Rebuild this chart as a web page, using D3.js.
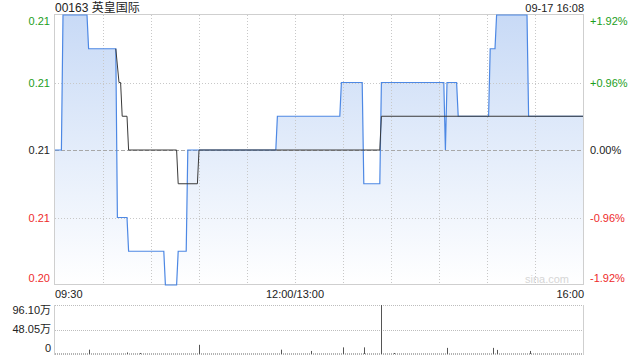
<!DOCTYPE html>
<html><head><meta charset="utf-8">
<script src="https://cdn.jsdelivr.net/npm/d3@7"></script>
<style>
html,body{margin:0;padding:0;background:#fff;}
svg{display:block;font-family:Arial,"Liberation Sans","Noto Sans CJK SC",sans-serif;}
</style></head>
<body><svg id="c" width="640" height="360"></svg>
<script>
const titleText = "00163 英皇国际";
const dateText = "09-17 16:08";
const prevClose = 0.208;
const priceTicks = [0.212, 0.210, 0.208, 0.206, 0.204];
const timeTickLabels = ["09:30", "12:00/13:00", "16:00"];
const gridTimes = ["10:00","10:30","11:00","11:30","12:00","13:30","14:00","14:30","15:00","15:30"];

const priceTimes = ["09:30","09:34","09:35","09:50","09:51","10:08","10:09","10:15","10:16","10:38","10:39","10:46","10:47","10:52","10:53","11:48","11:49","13:28","13:29","13:42","13:43","13:53","13:54","14:33","14:34","14:35","14:41","14:42","15:01","15:02","15:05","15:06","15:25","15:26","16:00"];
const priceValues = [0.208,0.208,0.212,0.212,0.211,0.211,0.206,0.206,0.205,0.205,0.204,0.204,0.205,0.205,0.208,0.208,0.209,0.209,0.210,0.210,0.207,0.207,0.210,0.210,0.208,0.210,0.210,0.209,0.209,0.211,0.211,0.212,0.212,0.209,0.209];

const avgTimes = ["10:08","10:10","10:11","10:12","10:15","10:16","10:46","10:47","10:59","11:00","13:53","13:54","16:00"];
const avgValues = [0.211,0.210,0.210,0.209,0.209,0.208,0.208,0.207,0.207,0.208,0.208,0.209,0.209];

const volTimes = ["09:51","10:15","10:23","11:00","11:51","13:10","13:30","13:43","13:54","14:02","14:35","15:04","15:06","15:27"];
const volValues = [85000,30000,20000,180000,85000,60000,130000,130000,961000,20000,120000,120000,80000,60000];
const volMax = 961000;
const volTickLabels = ["96.10万","48.05万","0"];

function idx(t){
  const [h,m] = t.split(":").map(Number);
  const mins = h*60+m;
  if (mins <= 12*60) return mins - (9*60+30);
  return 150 + mins - 13*60;
}

const svg = d3.select("#c");
const L = 55, R = 583, T = 15, B = 285;
const VT = 305, VB = 354;
const x = d3.scaleLinear().domain([0,330]).range([L,R]);
const y = d3.scaleLinear().domain([0.204,0.212]).range([B,T]);
const yv = d3.scaleLinear().domain([0,volMax]).range([VB,VT]);

const green = "#1c9e1c", red = "#ee2b2b", dark = "#222";
const colorFor = p => Math.abs(p-prevClose)<1e-9 ? dark : (p>prevClose ? green : red);

const defs = svg.append("defs");
const g = defs.append("linearGradient").attr("id","fillg").attr("gradientUnits","userSpaceOnUse")
  .attr("x1",0).attr("x2",0).attr("y1",T).attr("y2",B);
g.append("stop").attr("offset",0).attr("stop-color","#c8daf6");
g.append("stop").attr("offset",1).attr("stop-color","#ffffff");

const pData = priceTimes.map((t,i)=>({i:idx(t), v:priceValues[i]}));
const aData = avgTimes.map((t,i)=>({i:idx(t), v:avgValues[i]}));

svg.append("path").datum(pData)
  .attr("d", d3.area().x(d=>x(d.i)).y0(B).y1(d=>y(d.v)))
  .attr("fill","url(#fillg)");

svg.append("g").selectAll("line").data(gridTimes).join("line")
  .attr("x1",d=>x(idx(d))+0.5).attr("x2",d=>x(idx(d))+0.5).attr("y1",T).attr("y2",B)
  .attr("stroke","#c8c8c8").attr("stroke-dasharray","1,2");
svg.append("g").selectAll("line").data(priceTicks.filter(p=>p!==0.212 && p!==0.204)).join("line")
  .attr("x1",L).attr("x2",R).attr("y1",d=>Math.round(y(d))+0.5).attr("y2",d=>Math.round(y(d))+0.5)
  .attr("stroke",d=>d===prevClose?"#a8a8a8":"#c8c8c8")
  .attr("stroke-dasharray",d=>d===prevClose?"4,2":"1,2");

svg.append("rect").attr("x",L-0.5).attr("y",T-0.5).attr("width",R-L+1).attr("height",B-T)
  .attr("fill","none").attr("stroke","#cfcfcf");

svg.append("text").attr("x",569).attr("y",283).attr("text-anchor","end")
  .attr("font-size",11).attr("fill","#d6d6d6").text("sina.com");

svg.append("path").datum(pData)
  .attr("d", d3.line().x(d=>x(d.i)).y(d=>y(d.v)))
  .attr("fill","none").attr("stroke","#4d88e4").attr("stroke-width",1.2);
svg.append("path").datum(aData)
  .attr("d", d3.line().x(d=>x(d.i)).y(d=>y(d.v)))
  .attr("fill","none").attr("stroke","#3a3a3a").attr("stroke-width",1);

const pct = p => { const v=(p-prevClose)/prevClose*100; return Math.abs(v)<1e-9 ? "0.00%" : (v>0?"+":"")+v.toFixed(2)+"%"; };
const labelY = p => { const yy=y(p); if (p===0.212) return yy+9.5; if (p===0.204) return yy-3.5; return yy+4; };
svg.append("g").selectAll("text").data(priceTicks).join("text")
  .attr("x",50).attr("y",labelY).attr("text-anchor","end").attr("font-size",11)
  .attr("fill",colorFor).text(d=>d3.format(".2f")(d));
svg.append("g").selectAll("text").data(priceTicks).join("text")
  .attr("x",590).attr("y",labelY).attr("text-anchor","start").attr("font-size",11)
  .attr("fill",colorFor).text(pct);

svg.append("text").attr("x",55).attr("y",12).attr("font-size",12).attr("fill",dark).text(titleText);
svg.append("text").attr("x",584).attr("y",12).attr("text-anchor","end").attr("font-size",11).attr("fill",dark).text(dateText);

const tpos = [x(0), x(150), x(330)];
const tanchor = ["start","middle","end"];
svg.append("g").selectAll("text").data(timeTickLabels).join("text")
  .attr("x",(d,i)=>tpos[i]+(i===2?1:0)).attr("y",298).attr("text-anchor",(d,i)=>tanchor[i])
  .attr("font-size",11).attr("fill",dark).text(d=>d);

svg.append("line").attr("x1",L).attr("x2",R).attr("y1",VT+0.5).attr("y2",VT+0.5)
  .attr("stroke","#bdbdbd").attr("stroke-dasharray","1,1");
svg.append("line").attr("x1",L).attr("x2",R).attr("y1",Math.round(yv(volMax/2))+0.5).attr("y2",Math.round(yv(volMax/2))+0.5)
  .attr("stroke","#bdbdbd").attr("stroke-dasharray","1,1");
svg.append("line").attr("x1",L-0.5).attr("x2",L-0.5).attr("y1",VT).attr("y2",VB+1).attr("stroke","#cfcfcf");
svg.append("line").attr("x1",R+0.5).attr("x2",R+0.5).attr("y1",VT).attr("y2",VB+1).attr("stroke","#cfcfcf");
svg.append("line").attr("x1",L).attr("x2",R).attr("y1",VB).attr("y2",VB)
  .attr("stroke","#9a9a9a").attr("stroke-width",1.5).attr("stroke-dasharray","1,1");
svg.append("g").selectAll("line").data(volTimes).join("line")
  .attr("x1",(d)=>Math.round(x(idx(d)))+0.5).attr("x2",(d)=>Math.round(x(idx(d)))+0.5)
  .attr("y1",VB).attr("y2",(d,i)=>yv(volValues[i]))
  .attr("stroke","#555").attr("stroke-width",1);

const vly = [310+4, 329+4, 348+4];
svg.append("g").selectAll("text").data(volTickLabels).join("text")
  .attr("x",51).attr("y",(d,i)=>vly[i]).attr("text-anchor","end").attr("font-size",11)
  .attr("fill",dark).text(d=>d);
</script></body></html>
